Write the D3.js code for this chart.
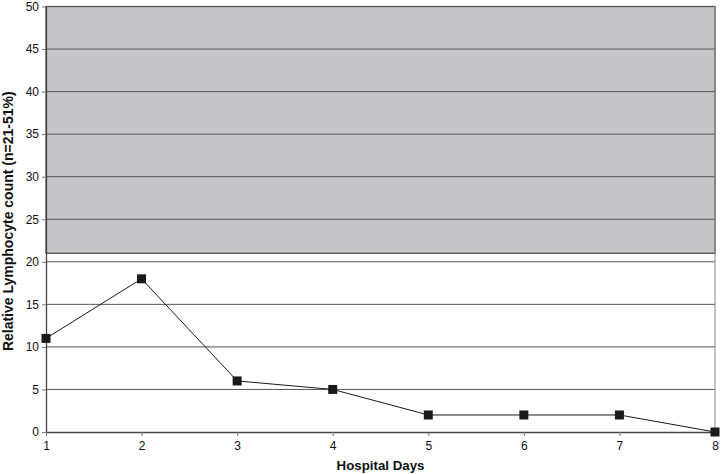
<!DOCTYPE html>
<html>
<head>
<meta charset="utf-8">
<script src="https://cdn.jsdelivr.net/npm/d3@7"></script>
<style>
  body { margin: 0; background: #fff; }
  text { font-family: "Liberation Sans", Arial, sans-serif; }
</style>
</head>
<body>
<div id="chart"></div>
<script>
// data
const days = [1, 2, 3, 4, 5, 6, 7, 8];
const lymphocytes = [11, 18, 6, 5, 2, 2, 2, 0];
const normalRange = [21, 50]; // shaded band (21-51%, clipped at axis max)
const yTicks = [0, 5, 10, 15, 20, 25, 30, 35, 40, 45, 50];

const W = 721, H = 474;
const margin = { top: 6.5, right: 6, bottom: 42, left: 46 };

const svg = d3.select("#chart").append("svg")
  .attr("width", W).attr("height", H);

const x = d3.scaleLinear().domain([1, 8]).range([margin.left, W - margin.right]);
const y = d3.scaleLinear().domain([0, 50]).range([H - margin.bottom, margin.top]);

// normal range band
svg.append("rect")
  .attr("x", x(1)).attr("y", y(normalRange[1]))
  .attr("width", x(8) - x(1))
  .attr("height", y(normalRange[0]) - y(normalRange[1]))
  .attr("fill", "#c6c6c8")
  .attr("stroke", "#555")
  .attr("stroke-width", 1.3);

// gridlines
svg.append("g")
  .selectAll("line")
  .data(yTicks.filter(d => d > 0))
  .join("line")
  .attr("x1", x(1)).attr("x2", x(8))
  .attr("y1", d => y(d)).attr("y2", d => y(d))
  .attr("stroke", "#555")
  .attr("stroke-width", 1);

// right border
svg.append("line")
  .attr("x1", x(8)).attr("x2", x(8))
  .attr("y1", y(0)).attr("y2", y(50))
  .attr("stroke", "#888");

// axes
const yAxis = svg.append("g")
  .attr("transform", `translate(${x(1)},0)`)
  .call(d3.axisLeft(y).tickValues(yTicks).tickSize(4).tickSizeOuter(0));
const xAxis = svg.append("g")
  .attr("transform", `translate(0,${y(0)})`)
  .call(d3.axisBottom(x).tickValues(days).tickFormat(d3.format("d")).tickSize(4).tickSizeOuter(0));

[yAxis, xAxis].forEach(a => {
  a.select(".domain").attr("stroke", "#444").attr("stroke-width", 1.3);
  a.selectAll(".tick line").attr("stroke", "#777");
  a.selectAll("text").attr("font-size", 12).attr("fill", "#111")
    .style("font-family", "Liberation Sans, Arial, sans-serif");
});
yAxis.selectAll("text").attr("x", -7);
xAxis.selectAll("text").attr("y", 9);

// line
const line = d3.line()
  .x((d, i) => x(days[i]))
  .y(d => y(d));

svg.append("path")
  .datum(lymphocytes)
  .attr("d", line)
  .attr("fill", "none")
  .attr("stroke", "#1a1a1a")
  .attr("stroke-width", 1);

// square markers
const s = 9;
svg.append("g")
  .selectAll("rect")
  .data(lymphocytes)
  .join("rect")
  .attr("x", (d, i) => x(days[i]) - s / 2)
  .attr("y", d => y(d) - s / 2)
  .attr("width", s).attr("height", s)
  .attr("fill", "#1a1a1a");

// titles
svg.append("text")
  .attr("x", (x(1) + x(8)) / 2)
  .attr("y", 470)
  .attr("text-anchor", "middle")
  .attr("font-size", 13.3)
  .attr("font-weight", "bold")
  .attr("fill", "#111")
  .text("Hospital Days");

svg.append("text")
  .attr("transform", `translate(13,${(y(0) + y(50)) / 2 + 2}) rotate(-90)`)
  .attr("text-anchor", "middle")
  .attr("font-size", 14)
  .attr("font-weight", "bold")
  .attr("fill", "#111")
  .text("Relative Lymphocyte count (n=21-51%)");
</script>
</body>
</html>
